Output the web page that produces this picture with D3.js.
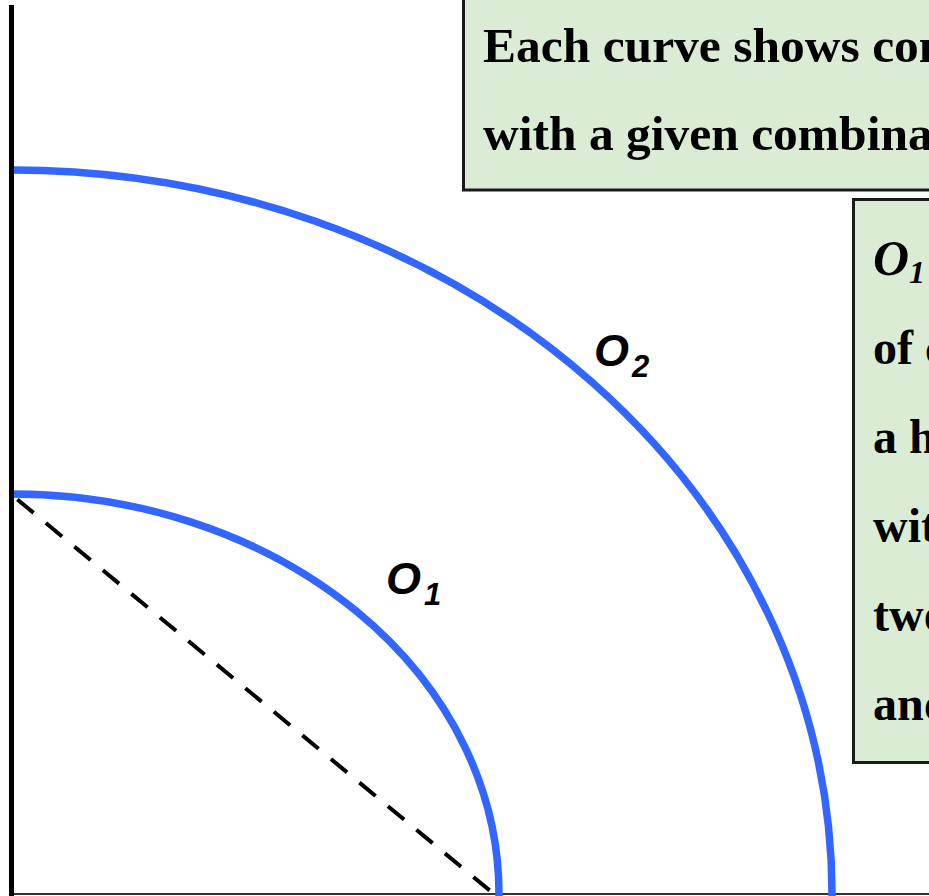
<!DOCTYPE html>
<html>
<head>
<meta charset="utf-8">
<script src="https://cdn.jsdelivr.net/npm/d3@7"></script>
<style>
  html, body { margin: 0; padding: 0; background: #ffffff; overflow: hidden; }
  svg { display: block; }
</style>
</head>
<body>
<svg id="chart" width="929" height="896"></svg>
<script>
// ---- data ----
const curveNames   = ["O1", "O2"];
const xIntercepts  = [4.87, 8.20];   // input x where each isoquant meets the x axis
const yIntercepts  = [4.00, 7.24];   // input y where each isoquant meets the y axis
const ridgeLine    = [[0, 3.99], [4.82, 0]];
const xDomain      = [0, 9.17];
const yDomain      = [0, 8.89];
const box1Lines    = ["Each curve shows combinations of inputs",
                      "with a given combination of outputs"];
const box2Lines    = ["", "of combinations", "a higher output", "with the", "two inputs", "and more"];

// ---- layout ----
const svg = d3.select("#chart");
const x = d3.scaleLinear().domain(xDomain).range([12, 929]);
const y = d3.scaleLinear().domain(yDomain).range([894, 5]);
const blue = "#3366ff";
const serif = "'Liberation Serif','Times New Roman',Times,serif";
const sans = "'Liberation Sans',Arial,Helvetica,sans-serif";

// text boxes
const g1 = svg.append("g");
g1.append("rect").attr("x", 463.5).attr("y", -10).attr("width", 600).attr("height", 200)
  .attr("fill", "#daecd3").attr("stroke", "#1a1a1a").attr("stroke-width", 3);
g1.selectAll("text").data(box1Lines).join("text")
  .attr("x", 483).attr("y", (d, i) => 62 + i * 88)
  .attr("font-family", serif).attr("font-weight", "bold").attr("font-size", 49.5)
  .attr("fill", "#000").text(d => d);

const g2 = svg.append("g");
g2.append("rect").attr("x", 853.5).attr("y", 199.5).attr("width", 300).attr("height", 563)
  .attr("fill", "#daecd3").attr("stroke", "#1a1a1a").attr("stroke-width", 3);
g2.selectAll("text.l").data(box2Lines).join("text").attr("class", "l")
  .attr("x", 873).attr("y", (d, i) => 275 + i * 89)
  .attr("font-family", serif).attr("font-weight", "bold").attr("font-size", 48)
  .attr("fill", "#000").text(d => d);
const t0 = g2.append("text").attr("x", 873).attr("y", 275)
  .attr("font-family", serif).attr("font-weight", "bold").attr("font-size", 50).attr("fill", "#000");
t0.append("tspan").attr("font-style", "italic").text("O");
t0.append("tspan").attr("font-style", "italic").attr("font-size", 32).attr("dy", 8).text("1");
t0.append("tspan").attr("dy", -8).attr("font-size", 48).text(" is the set");

// bottom axis
const axisG = svg.append("g");
axisG.append("line")
  .attr("x1", x(0) - 3).attr("x2", 929).attr("y1", y(0)).attr("y2", y(0))
  .attr("stroke", "#333").attr("stroke-width", 2);

// dashed ridge line
svg.append("path")
  .attr("d", d3.line().x(d => x(d[0])).y(d => y(d[1]))(ridgeLine))
  .attr("fill", "none").attr("stroke", "#000").attr("stroke-width", 4)
  .attr("stroke-dasharray", "21,16").attr("stroke-dashoffset", 30);

// isoquant curves (quarter ellipses through the intercepts)
svg.selectAll("path.curve").data(curveNames).join("path").attr("class", "curve")
  .attr("d", (d, i) => {
    const rx = x(xIntercepts[i]) - x(0);
    const ry = y(0) - y(yIntercepts[i]);
    return `M${x(0)},${y(yIntercepts[i])} A${rx},${ry} 0 0 1 ${x(xIntercepts[i])},${y(0)} V${y(0) + 3}`;
  })
  .attr("fill", "none").attr("stroke", blue).attr("stroke-width", 7.5);

// vertical axis on top
svg.append("line")
  .attr("x1", x(0) - 0.5).attr("x2", x(0) - 0.5).attr("y1", y(yDomain[1])).attr("y2", 896)
  .attr("stroke", "#000").attr("stroke-width", 5);

// curve labels
const labelPos = [[386, 594], [594, 366]];
curveNames.forEach((name, i) => {
  const t = svg.append("text").attr("x", labelPos[i][0]).attr("y", labelPos[i][1])
    .attr("font-family", sans).attr("font-weight", "bold").attr("font-style", "italic")
    .attr("font-size", 45).attr("fill", "#000");
  t.append("tspan").text(name[0]);
  t.append("tspan").attr("font-size", 31).attr("dx", 3).attr("dy", 11).text(name.slice(1));
});
</script>
</body>
</html>
